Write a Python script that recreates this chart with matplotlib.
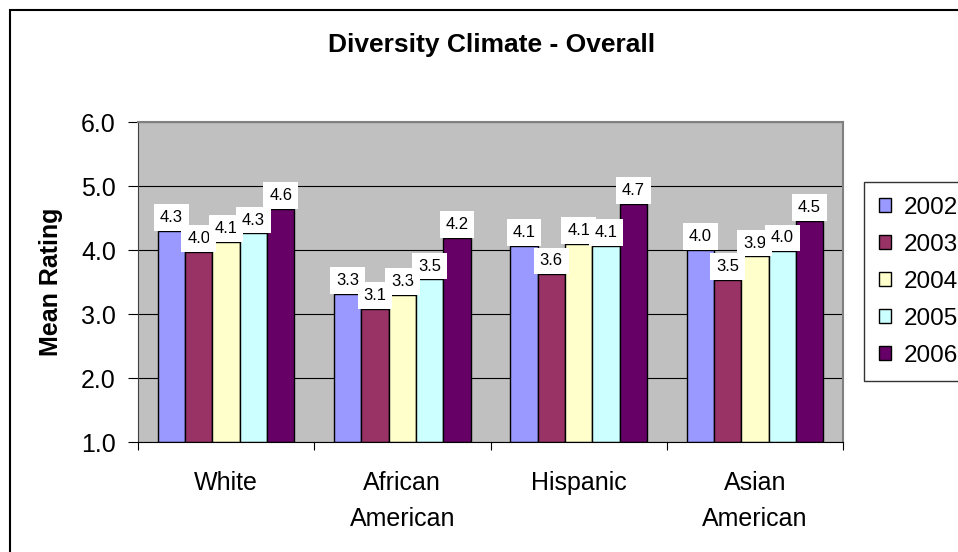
import matplotlib.pyplot as plt
import matplotlib.patches as mpatches
import numpy as np

plt.rcParams["font.family"] = ["Liberation Sans", "DejaVu Sans"]

categories = ["White", "African\nAmerican", "Hispanic", "Asian\nAmerican"]
years = ["2002", "2003", "2004", "2005", "2006"]
ratings = {
    "2002": [4.30, 3.32, 4.06, 4.00],
    "2003": [3.97, 3.08, 3.62, 3.53],
    "2004": [4.13, 3.30, 4.10, 3.90],
    "2005": [4.26, 3.54, 4.07, 3.98],
    "2006": [4.64, 4.19, 4.72, 4.46],
}
colors = ["#9999FF", "#993366", "#FFFFCC", "#CCFFFF", "#660066"]

fig = plt.figure(figsize=(9.58, 5.52), dpi=100)
ax = fig.add_axes([138 / 958, 1 - 442 / 552, 705 / 958, 320 / 552])
ax.set_facecolor("#C0C0C0")

x = np.arange(len(categories))
width = 0.155
for j, year in enumerate(years):
    vals = np.array(ratings[year])
    pos = x + (j - 2) * width
    ax.bar(pos, vals - 1, bottom=1, width=width, color=colors[j],
           edgecolor="black", linewidth=1.0, label=year, zorder=2)
    for px, v in zip(pos, vals):
        ax.annotate(f"{v:.1f}", xy=(px, v), xytext=(0, 4.2), textcoords="offset points",
                    ha="center", va="bottom", fontsize=12, zorder=5,
                    bbox=dict(boxstyle="square,pad=0.35", fc="white", ec="none"))

ax.set_xlim(-0.5, len(categories) - 0.5)
ax.set_ylim(1, 6)
ax.set_yticks(np.arange(1, 6.5, 1))
ax.yaxis.set_major_formatter(plt.FuncFormatter(lambda y, _: f"{y:.1f}"))
ax.grid(True, axis="y", color="black", linewidth=0.8)
ax.set_axisbelow(True)

ax.set_xticks(x)
ax.set_xticklabels(categories, linespacing=1.6)
ax.set_xticks(np.arange(-0.5, len(categories)), minor=True)
ax.tick_params(axis="x", which="major", length=0, pad=21, labelsize=18)
ax.tick_params(axis="x", which="minor", length=6, width=0.8, direction="out")
ax.tick_params(axis="y", length=7, width=0.8, pad=9, labelsize=18)

for side in ["top", "right"]:
    ax.spines[side].set_color("#808080")
    ax.spines[side].set_linewidth(1.5)
ax.spines["left"].set_color("#404040")
ax.spines["bottom"].set_color("black")

fig.text(0.513, 0.918, "Diversity Climate - Overall", ha="center", va="center",
         fontsize=19, fontweight="bold")
fig.text(0.053, 0.489, "Mean Rating", ha="center", va="center", rotation=90,
         fontsize=18, fontweight="bold")

leg = fig.legend(loc="upper left", bbox_to_anchor=(864 / 958, 1 - 182 / 552),
                 fontsize=17.5, frameon=True, fancybox=False, handlelength=0.52,
                 handleheight=0.52, handletextpad=0.5, labelspacing=0.62,
                 borderpad=0.6, borderaxespad=0)
leg.get_frame().set_edgecolor("black")
leg.get_frame().set_linewidth(1.0)

fig.patches.append(mpatches.Rectangle((10 / 958, -0.05), 1.0, 1.05 - 10 / 552,
                                      transform=fig.transFigure, fill=False,
                                      edgecolor="black", linewidth=1.5))

fig.savefig("out.png", dpi=100)
